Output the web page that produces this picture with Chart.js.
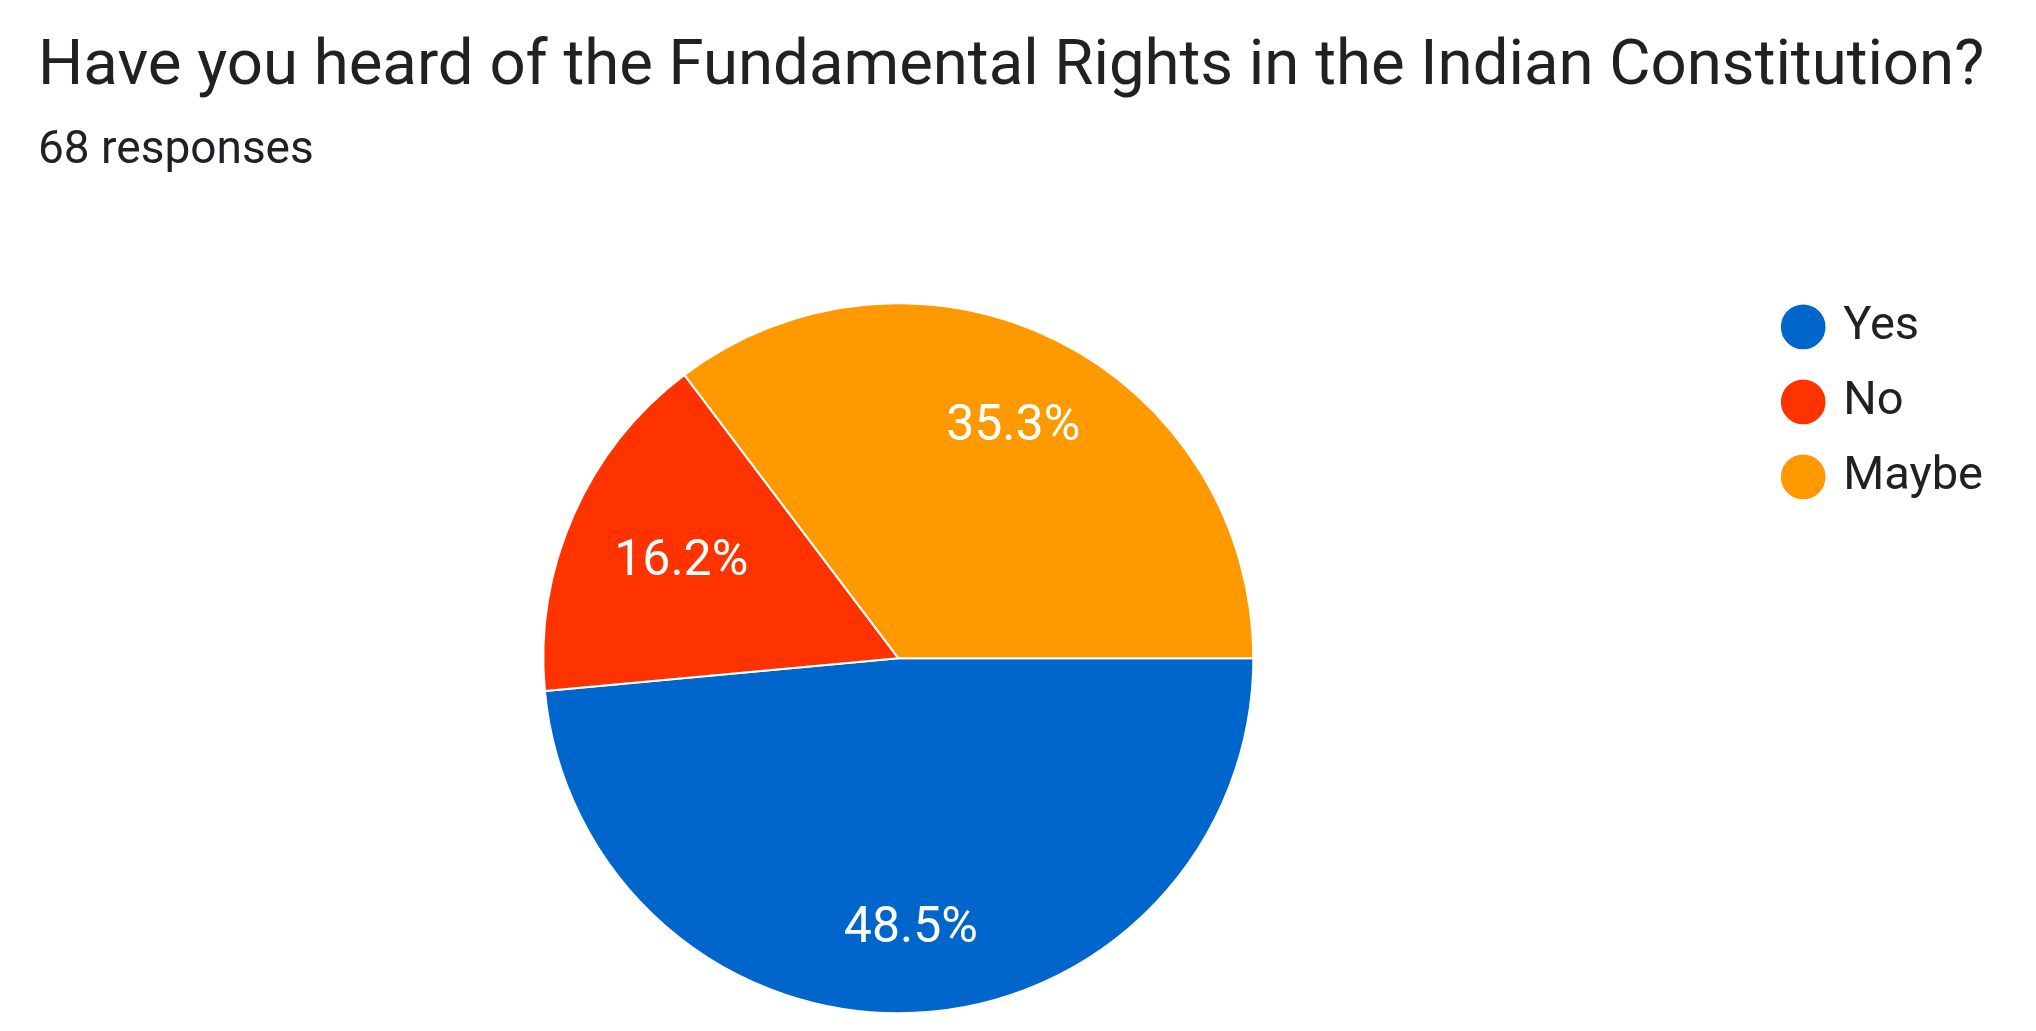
<!DOCTYPE html>
<html lang="en">
<head>
    <meta charset="UTF-8">
    <title>Fundamental Rights survey</title>
    <script src="https://cdn.jsdelivr.net/npm/chart.js"></script>
    <style>
        html, body { margin: 0; padding: 0; background: #fff; }
        #wrap { width: 2036px; height: 1031px; }
    </style>
</head>
<body>
    <div id="wrap"><canvas id="pieChart"></canvas></div>

    <script>
        const questionText = "Have you heard of the Fundamental Rights in the Indian Constitution?";
        const answers = ["Yes", "No", "Maybe"];
        const responses = [33, 11, 24];
        const sliceColors = ["#0066cc", "#ff3300", "#ff9900"];

        const total = responses.reduce((a, b) => a + b, 0);

        // percentage text inside every slice, bigger slices get it a bit further out
        const sliceLabels = {
            id: "sliceLabels",
            afterDatasetsDraw(chart) {
                const ctx = chart.ctx;
                const meta = chart.getDatasetMeta(0);
                ctx.save();
                ctx.fillStyle = "#ffffff";
                ctx.font = "50px Roboto";
                ctx.textAlign = "center";
                ctx.textBaseline = "middle";
                meta.data.forEach((arc, i) => {
                    const p = arc.getProps(["x", "y", "startAngle", "endAngle", "outerRadius"], true);
                    const mid = (p.startAngle + p.endAngle) / 2;
                    const share = responses[i] / total;
                    const r = p.outerRadius * (0.62 + 0.3 * share);
                    const pct = (share * 100).toFixed(1) + "%";
                    ctx.fillText(pct, p.x + Math.cos(mid) * r, p.y + Math.sin(mid) * r);
                });
                ctx.restore();
            }
        };

        new Chart(document.getElementById("pieChart"), {
            type: "pie",
            data: {
                labels: answers,
                datasets: [{
                    data: responses,
                    backgroundColor: sliceColors,
                    borderColor: "#ffffff",
                    borderWidth: 2,
                    radius: 355
                }]
            },
            options: {
                responsive: true,
                maintainAspectRatio: false,
                animation: false,
                rotation: 90,
                layout: { padding: { left: 38, right: 43, top: 0, bottom: 0 } },
                plugins: {
                    tooltip: { enabled: false },
                    title: {
                        display: true,
                        text: questionText,
                        align: "start",
                        color: "#202124",
                        font: { family: "Roboto", size: 63.5, weight: "normal", lineHeight: 1.2 },
                        padding: { top: 30, bottom: 0 }
                    },
                    subtitle: {
                        display: true,
                        text: total + " responses",
                        align: "start",
                        color: "#202124",
                        font: { family: "Roboto", size: 46, weight: "normal", lineHeight: 1.2 },
                        padding: { top: 18, bottom: 106 }
                    },
                    legend: {
                        position: "right",
                        align: "start",
                        fullSize: false,
                        // empty title with negative padding pulls the items up a bit
                        title: {
                            display: true,
                            text: "",
                            font: { size: 1, lineHeight: 1 },
                            padding: { top: 0, bottom: -11 }
                        },
                        labels: {
                            usePointStyle: true,
                            pointStyle: "circle",
                            boxWidth: 33,
                            boxHeight: 33,
                            padding: 28,
                            color: "#202124",
                            font: { family: "Roboto", size: 47 }
                        }
                    }
                }
            },
            plugins: [sliceLabels]
        });
    </script>
</body>
</html>
